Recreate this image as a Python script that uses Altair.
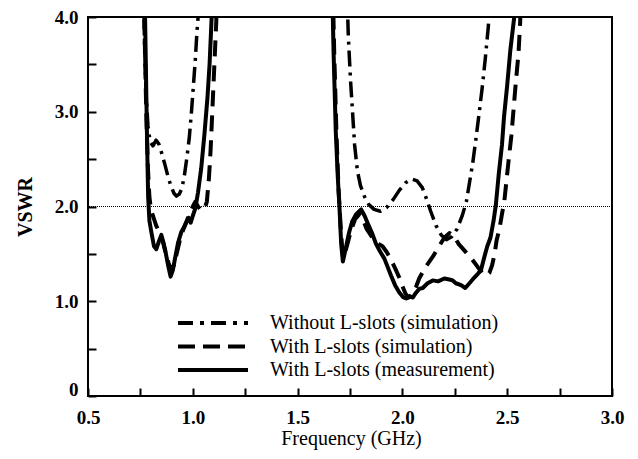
import altair as alt
import pandas as pd

# ---------------- data ----------------
# Without L-slots (simulation) - dash-dot
wo_f1 = [0.764, 0.770, 0.777, 0.786, 0.797, 0.810, 0.825, 0.838, 0.852, 0.866, 0.880, 0.895,
         0.910, 0.922, 0.935, 0.948, 0.960, 0.972, 0.983, 0.993, 1.002, 1.012, 1.020, 1.027, 1.030]
wo_v1 = [4.30, 3.70, 3.20, 2.85, 2.68, 2.64, 2.70, 2.66, 2.56, 2.45, 2.33, 2.22,
         2.14, 2.11, 2.13, 2.19, 2.33, 2.52, 2.72, 2.98, 3.25, 3.55, 3.85, 4.05, 4.30]
wo_f2 = [1.735, 1.742, 1.752, 1.762, 1.772, 1.785, 1.800, 1.820, 1.840, 1.865, 1.895, 1.925,
         1.955, 1.985, 2.015, 2.045, 2.070, 2.095, 2.115, 2.135, 2.160, 2.185, 2.210, 2.235,
         2.260, 2.285, 2.305, 2.320, 2.335, 2.350, 2.367, 2.380, 2.395, 2.410, 2.418]
wo_v2 = [4.30, 3.80, 3.35, 3.00, 2.65, 2.38, 2.22, 2.10, 2.02, 1.97, 1.95, 1.99,
         2.07, 2.17, 2.25, 2.29, 2.27, 2.20, 2.08, 1.95, 1.80, 1.70, 1.65, 1.68,
         1.76, 1.90, 2.05, 2.25, 2.45, 2.70, 3.00, 3.24, 3.55, 3.90, 4.30]

# With L-slots (simulation) - dashed
sim_f1 = [0.766, 0.773, 0.779, 0.786, 0.793, 0.800, 0.810, 0.825, 0.843, 0.858, 0.872, 0.885,
          0.897, 0.910, 0.925, 0.940, 0.955, 0.970, 0.985, 1.000, 1.012, 1.025, 1.040, 1.055,
          1.067, 1.077, 1.085, 1.093, 1.103, 1.112, 1.115]
sim_v1 = [4.30, 3.50, 2.90, 2.40, 2.10, 1.98, 1.90, 1.80, 1.72, 1.62, 1.50, 1.40,
          1.33, 1.38, 1.52, 1.66, 1.76, 1.84, 1.93, 2.00, 2.05, 2.00, 1.96, 1.97,
          2.05, 2.30, 2.60, 3.00, 3.50, 3.95, 4.30]
sim_f2 = [1.668, 1.675, 1.685, 1.695, 1.705, 1.713, 1.720, 1.735, 1.755, 1.775, 1.795, 1.812,
          1.830, 1.860, 1.890, 1.905, 1.925, 1.945, 1.965, 1.985, 2.000, 2.015, 2.030, 2.050,
          2.065, 2.080, 2.110, 2.145, 2.175, 2.200, 2.225, 2.250, 2.270, 2.290, 2.310, 2.330,
          2.360, 2.385, 2.400, 2.415, 2.428, 2.440, 2.450, 2.462, 2.475, 2.486, 2.505, 2.520,
          2.540, 2.554, 2.562, 2.565]
sim_v2 = [4.30, 3.60, 2.80, 2.20, 1.80, 1.55, 1.47, 1.58, 1.75, 1.87, 1.92, 1.86,
          1.76, 1.66, 1.60, 1.58, 1.52, 1.44, 1.35, 1.25, 1.16, 1.08, 1.04, 1.08,
          1.15, 1.24, 1.36, 1.47, 1.58, 1.67, 1.72, 1.67, 1.60, 1.55, 1.50, 1.45,
          1.36, 1.29, 1.27, 1.30, 1.38, 1.50, 1.65, 1.75, 1.92, 2.05, 2.45, 2.75,
          3.28, 3.62, 3.95, 4.30]

# With L-slots (measurement) - solid
meas_f1 = [0.770, 0.776, 0.781, 0.787, 0.793, 0.803, 0.815, 0.826, 0.838, 0.850, 0.860, 0.870,
           0.882, 0.894, 0.905, 0.915, 0.930, 0.945, 0.958, 0.970, 0.980, 0.990, 1.000, 1.012,
           1.025, 1.040, 1.055, 1.070, 1.080, 1.090, 1.095]
meas_v1 = [4.30, 3.50, 2.80, 2.10, 1.85, 1.72, 1.58, 1.55, 1.63, 1.70, 1.62, 1.52,
           1.38, 1.26, 1.33, 1.45, 1.62, 1.73, 1.78, 1.84, 1.88, 1.83, 1.90, 1.98,
           2.15, 2.40, 2.75, 3.15, 3.50, 4.00, 4.30]
meas_f2 = [1.665, 1.672, 1.682, 1.692, 1.700, 1.708, 1.716, 1.730, 1.745, 1.760, 1.780, 1.803,
           1.820, 1.835, 1.855, 1.875, 1.895, 1.914, 1.930, 1.946, 1.965, 1.986, 2.005, 2.018,
           2.035, 2.050, 2.065, 2.080, 2.097, 2.120, 2.145, 2.170, 2.200, 2.224, 2.240, 2.255,
           2.280, 2.300, 2.320, 2.343, 2.360, 2.375, 2.390, 2.405, 2.420, 2.435, 2.446, 2.460,
           2.475, 2.485, 2.500, 2.515, 2.533, 2.537]
meas_v2 = [4.30, 3.60, 2.80, 2.30, 1.98, 1.60, 1.42, 1.56, 1.72, 1.84, 1.92, 1.97,
           1.90, 1.82, 1.72, 1.60, 1.52, 1.45, 1.36, 1.27, 1.17, 1.09, 1.04, 1.03,
           1.05, 1.04, 1.09, 1.13, 1.14, 1.19, 1.22, 1.21, 1.24, 1.23, 1.22, 1.19,
           1.17, 1.14, 1.19, 1.25, 1.29, 1.33, 1.46, 1.58, 1.67, 1.85, 2.02, 2.35,
           2.65, 2.95, 3.28, 3.65, 3.99, 4.30]

series_names = ["Without L-slots (simulation)",
                "With L-slots (simulation)",
                "With L-slots (measurement)"]
reference_level = [2.0]
x_ticks = [0.5, 0.75, 1.0, 1.25, 1.5, 1.75, 2.0, 2.25, 2.5, 2.75, 3.0]
y_ticks = [0, 0.5, 1.0, 1.5, 2.0, 2.5, 3.0, 3.5, 4.0]

# ---------------- build tables ----------------
def band(name, seg, fs, vs):
    return pd.DataFrame({"series": name, "seg": seg, "i": list(range(len(fs))),
                         "f": fs, "v": vs})

df = pd.concat([
    band(series_names[0], 1, wo_f1, wo_v1), band(series_names[0], 2, wo_f2, wo_v2),
    band(series_names[1], 1, sim_f1, sim_v1), band(series_names[1], 2, sim_f2, sim_v2),
    band(series_names[2], 1, meas_f1, meas_v1), band(series_names[2], 2, meas_f2, meas_v2),
], ignore_index=True)
ref_df = pd.DataFrame({"v": reference_level})
one = pd.DataFrame({"a": [0]})

FONT = "Liberation Serif"
W, H = 524, 379
TICK = 8

x_scale = alt.Scale(domain=[0.5, 3.0], nice=False, zero=False)
y_scale = alt.Scale(domain=[0, 4], nice=False)

# Axes are shifted inside the plot by the tick length (negative offset), so their
# outward ticks appear as inward ticks on the frame; the frame itself is the view stroke.
x_enc = alt.X("f:Q", scale=x_scale,
              axis=alt.Axis(values=x_ticks, title="Frequency (GHz)",
                            labelExpr="round(datum.value*4) % 2 == 0 ? format(datum.value, '.1f') : ''",
                            offset=-TICK, domain=False,
                            ticks=True, tickSize=TICK, tickWidth=2, tickColor="black",
                            labelPadding=12, labelFontSize=19, labelFontWeight="bold",
                            labelFont=FONT, labelColor="black", labelFlush=False,
                            titleFont=FONT, titleFontSize=20, titleFontWeight="normal",
                            titleColor="black", titleX=W / 2 + 1, titleY=42 + TICK,
                            titleBaseline="middle", titleAlign="center", grid=False))
y_enc = alt.Y("v:Q", scale=y_scale,
              axis=alt.Axis(values=y_ticks, title="VSWR",
                            labelExpr="datum.value % 1 == 0 ? (datum.value == 0 ? '0' : format(datum.value, '.1f')) : ''",
                            offset=-TICK, domain=False,
                            ticks=True, tickSize=TICK, tickWidth=2, tickColor="black",
                            labelPadding=10, labelFontSize=19, labelFontWeight="bold",
                            labelFont=FONT, labelColor="black", labelFlush=False,
                            labelOffset={"condition": {"test": "datum.value == 0", "value": -7}, "value": 0},
                            titleFont=FONT, titleFontSize=20, titleFontWeight="bold",
                            titleColor="black", titleX=-63 - TICK, titleY=H / 2, titleAngle=-90,
                            titleBaseline="middle", titleAlign="center", grid=False))

styles = [
    dict(strokeDash=[16, 6, 3, 6], strokeWidth=3.5),
    dict(strokeDash=[16, 9], strokeWidth=4),
    dict(strokeWidth=4),
]

layers = []
for name, st in zip(series_names, styles):
    layers.append(
        alt.Chart(df).transform_filter(alt.datum.series == name)
        .mark_line(color="black", clip=True, strokeCap="butt", strokeJoin="round", **st)
        .encode(x=x_enc, y=y_enc, detail="seg:N", order="i:Q")
    )

ref = alt.Chart(ref_df).mark_rule(color="black", strokeWidth=1, strokeDash=[1, 1]).encode(
    y=y_enc)
layers.append(ref)

# legend (drawn inside the plot, lower middle)
leg_y = [306, 329.5, 353]
legend_dashes = [[15, 7, 4, 7], [17, 8], None]
for lab, yy, dash in zip(series_names, leg_y, legend_dashes):
    kw = dict(color="black", strokeWidth=4, strokeCap="butt")
    if dash:
        kw["strokeDash"] = dash
    layers.append(alt.Chart(one).mark_rule(**kw).encode(
        x=alt.value(90), x2=alt.value(160), y=alt.value(yy)))
    layers.append(alt.Chart(one).mark_text(text=lab, align="left", baseline="middle",
                                           font=FONT, fontSize=20, color="black").encode(
        x=alt.value(182), y=alt.value(yy)))

chart = alt.layer(*layers).properties(
    width=W, height=H,
    autosize=alt.AutoSizeParams(type="none"),
    padding={"left": 80, "top": 9, "right": 18, "bottom": 55},
).configure(
    background="white", font=FONT,
    view=alt.ViewConfig(stroke="black", strokeWidth=2),
)

chart.save("out.html", embed_options={"renderer": "svg", "actions": False})
